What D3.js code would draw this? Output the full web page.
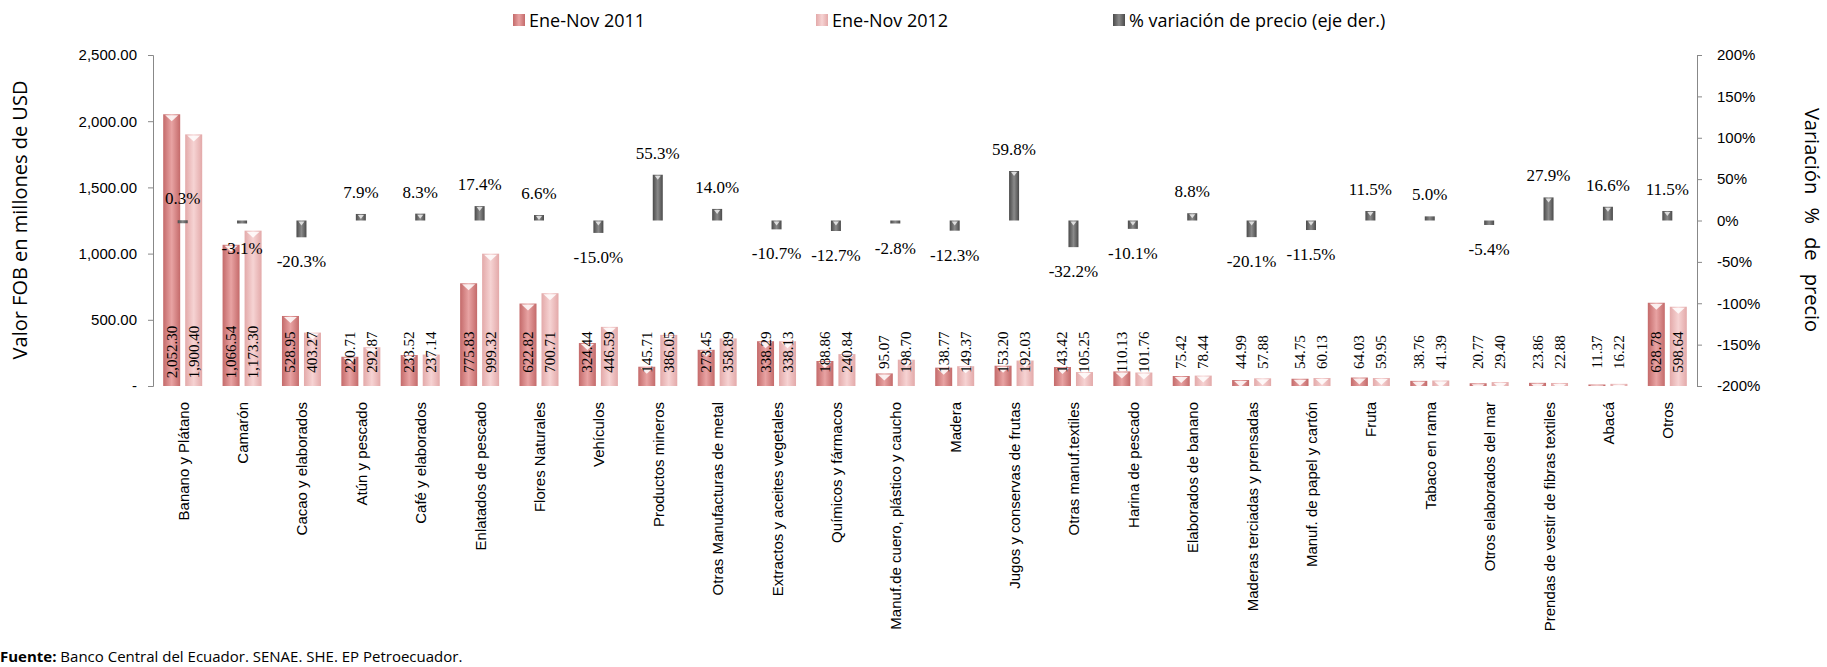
<!DOCTYPE html>
<html><head><meta charset="utf-8">
<script src="https://cdn.jsdelivr.net/npm/d3@7"></script>
<style>body{margin:0;background:#fff}</style>
</head><body><div id="chart"></div>
<script>
const categories = ["Banano y Plátano","Camarón","Cacao y elaborados","Atún y pescado","Café y elaborados","Enlatados de pescado","Flores Naturales","Vehículos","Productos mineros","Otras Manufacturas de metal","Extractos y aceites vegetales","Químicos y fármacos","Manuf.de cuero, plástico y caucho","Madera","Jugos y conservas de frutas","Otras manuf.textiles","Harina de pescado","Elaborados de banano","Maderas terciadas y prensadas","Manuf. de papel y cartón","Fruta","Tabaco en rama","Otros elaborados del mar","Prendas de vestir de fibras textiles","Abacá","Otros"];
const v2011 = [2052.30,1066.54,528.95,220.71,233.52,775.83,622.82,324.44,145.71,273.45,338.29,188.86,95.07,138.77,153.20,143.42,110.13,75.42,44.99,54.75,64.03,38.76,20.77,23.86,11.37,628.78];
const v2012 = [1900.40,1173.30,403.27,292.87,237.14,999.32,700.71,446.59,386.05,358.89,338.13,240.84,198.70,149.37,192.03,105.25,101.76,78.44,57.88,60.13,59.95,41.39,29.40,22.88,16.22,598.64];
const pct = [0.3,-3.1,-20.3,7.9,8.3,17.4,6.6,-15.0,55.3,14.0,-10.7,-12.7,-2.8,-12.3,59.8,-32.2,-10.1,8.8,-20.1,-11.5,11.5,5.0,-5.4,27.9,16.6,11.5];
const leftTicks = [0,500,1000,1500,2000,2500];
const rightTicks = [-200,-150,-100,-50,0,50,100,150,200];

const W = 1827, H = 667, plotTop = 55, plotBottom = 386, L = 153, R = 1697;
const svg = d3.select("#chart").append("svg").attr("width", W).attr("height", H);
const defs = svg.append("defs");
function grad(id, c1, c2) {
  const g = defs.append("linearGradient").attr("id", id);
  g.append("stop").attr("offset", "0%").attr("stop-color", c1);
  g.append("stop").attr("offset", "50%").attr("stop-color", c2);
  g.append("stop").attr("offset", "100%").attr("stop-color", c1);
}
grad("g11", "#c46a6a", "#e8a3a3");
grad("g12", "#e3a9a9", "#f6d3d3");
grad("gp", "#4a4a4a", "#8a8a8a");

const x = d3.scaleBand().domain(categories).range([L, R]);
const y = d3.scaleLinear().domain([0, 2500]).range([plotBottom, plotTop]);
const y2 = d3.scaleLinear().domain([-200, 200]).range([plotBottom, plotTop]);
const bw = 17, gap = 5, pw = 10;
const fmtPct = v => (v < 0 ? "-" : "") + Math.abs(v).toFixed(1) + "%";

svg.append("g").attr("transform", `translate(${L},0)`)
  .call(d3.axisLeft(y).tickValues(leftTicks).tickSize(5).tickFormat(d => d === 0 ? "-" : d3.format(",.2f")(d)))
  .call(g => { g.select(".domain").attr("stroke", "#888"); g.selectAll("line").attr("stroke", "#888");
    g.selectAll("text").attr("font-family", "Liberation Sans").attr("font-size", 15).attr("fill", "#000").attr("dx", -8); });
svg.append("g").attr("transform", `translate(${R},0)`)
  .call(d3.axisRight(y2).tickValues(rightTicks).tickSize(5).tickFormat(d => d + "%"))
  .call(g => { g.select(".domain").attr("stroke", "#888"); g.selectAll("line").attr("stroke", "#888");
    g.selectAll("text").attr("font-family", "Liberation Sans").attr("font-size", 15).attr("fill", "#000").attr("dx", 12); });

const cx = d => x(d) + x.bandwidth() / 2;
const tri = (x0, yt, w) => `M${x0 + 2},${yt + 1}L${x0 + w - 2},${yt + 1}L${x0 + w / 2},${yt + Math.min(7, w / 2)}Z`;

function bars(vals, fill, off) {
  const g = svg.append("g");
  categories.forEach((c, i) => {
    const x0 = cx(c) + off;
    g.append("rect").attr("x", x0).attr("y", y(vals[i])).attr("width", bw).attr("height", plotBottom - y(vals[i])).attr("fill", fill);
    g.append("path").attr("d", tri(x0, y(vals[i]), bw)).attr("fill", "#fff").attr("opacity", 0.85);
    g.append("text").attr("transform", `translate(${x0 + bw / 2 + 5},352) rotate(-90)`)
      .attr("text-anchor", "middle").attr("font-family", "Liberation Serif").attr("font-size", 15).text(d3.format(",.2f")(vals[i]));
  });
}
bars(v2011, "url(#g11)", -bw - gap / 2);
bars(v2012, "url(#g12)", gap / 2);

const pg = svg.append("g");
categories.forEach((c, i) => {
  const v = pct[i], x0 = cx(c) - pw / 2;
  const yt = Math.min(y2(v), y2(0)), h = Math.max(Math.abs(y2(v) - y2(0)), 3);
  pg.append("rect").attr("x", x0).attr("y", yt).attr("width", pw).attr("height", h).attr("fill", "url(#gp)");
  if (h > 5) pg.append("path").attr("d", tri(x0, yt, pw)).attr("fill", "#ddd");
  pg.append("text").attr("x", cx(c)).attr("y", v >= 0 ? yt - 16 : yt + h + 30)
    .attr("text-anchor", "middle").attr("font-family", "Liberation Serif").attr("font-size", 17).text(fmtPct(v));
});

svg.append("g").selectAll("text").data(categories).join("text")
  .attr("transform", d => `translate(${cx(d) + 6},402) rotate(-90)`)
  .attr("text-anchor", "end").attr("font-family", "Liberation Sans").attr("font-size", 15).text(d => d);

svg.append("text").attr("transform", `translate(27,220) rotate(-90)`).attr("text-anchor", "middle")
  .attr("font-family", "Open Sans").attr("font-size", 20).text("Valor FOB en millones de USD");
svg.append("text").attr("transform", `translate(1805,220) rotate(90)`).attr("text-anchor", "middle")
  .attr("font-family", "Open Sans").attr("font-size", 20).attr("word-spacing", 8).text("Variación % de precio");

const legend = [["Ene-Nov 2011", "url(#g11)", 513], ["Ene-Nov 2012", "url(#g12)", 816], ["% variación de precio (eje der.)", "url(#gp)", 1113]];
legend.forEach(([t, f, lx]) => {
  svg.append("rect").attr("x", lx).attr("y", 14).attr("width", 12).attr("height", 12).attr("fill", f);
  svg.append("text").attr("x", lx + 16).attr("y", 27).attr("font-family", "Open Sans").attr("font-size", 18).text(t);
});

const f = svg.append("text").attr("x", 0).attr("y", 662).attr("font-family", "Open Sans").attr("font-size", 15);
f.append("tspan").attr("font-weight", "bold").text("Fuente:");
f.append("tspan").text(" Banco Central del Ecuador. SENAE. SHE. EP Petroecuador.");
</script></body></html>
